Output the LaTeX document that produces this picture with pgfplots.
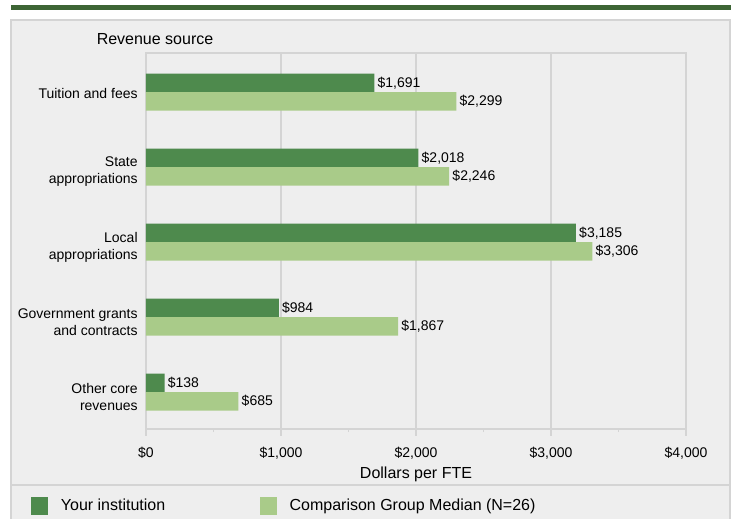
\documentclass[border=0pt]{standalone}
\usepackage{pgfplots}
\pgfplotsset{compat=1.18}
\usepackage{fontspec}
\setmainfont{Liberation Sans}

\definecolor{darkbar}{HTML}{4E8A4D}
\definecolor{lightbar}{HTML}{A9CB89}
\definecolor{stripe}{HTML}{3D6535}
\definecolor{panel}{HTML}{EEEEEE}
\definecolor{frame}{HTML}{D4D4D4}

\newcommand{\chartfont}{\fontsize{10.5}{12.75}\selectfont}
\newcommand{\bigfont}{\fontsize{12}{14.4}\selectfont}

\begin{document}
\begin{tikzpicture}[x=0.75pt,y=-0.75pt]
  \useasboundingbox (0,0) rectangle (732,518);
  % page decoration
  \fill[stripe] (11,5) rectangle (731,9.5);
  \filldraw[fill=panel,draw=frame,line width=1.1pt] (11,20) rectangle (730,530);
  \draw[frame,line width=1.1pt] (11,485) -- (730,485);

  \begin{axis}[
    at={(109.5pt,-321.75pt)}, anchor=south west,
    scale only axis,
    width=405pt, height=282pt,
    font=\chartfont,
    xbar, bar width=13.875pt,
    y dir=reverse,
    xmin=0, xmax=4000,
    ymin=-0.52, ymax=4.493,
    xtick={0,1000,2000,3000,4000},
    minor x tick num=1,
    xtick pos=left,
    tick align=outside,
    major tick length=5pt, minor tick length=2.25pt,
    tick style={frame, line width=1.1pt},
    xmajorgrids,
    major grid style={frame, line width=1.1pt},
    axis line style={frame, line width=1.1pt},
    axis background/.style={fill=panel},
    /pgf/number format/.cd, 1000 sep={,}, assume math mode=true, /pgfplots/.cd,
    xticklabel={\$\pgfmathprintnumber{\tick}},
    xticklabel style={yshift=-5pt},
    ytick={0,1,2,3,4},
    ytick style={draw=none},
    yticklabels={\raisebox{3pt}[\height][\depth]{Tuition and fees},
      State\\appropriations, Local\\appropriations,
      Government grants\\and contracts, Other core\\revenues},
    yticklabel style={align=right, xshift=2.25pt, yshift=-3.75pt},
    title={Revenue source},
    title style={at={(axis description cs:0.0167,1.037)}, anchor=center,
      yshift=-6pt, inner sep=0pt, font=\bigfont},
    xlabel={Dollars per FTE},
    xlabel style={at={(axis description cs:0.5,-0.12)}, anchor=center,
      inner sep=0pt, font=\bigfont},
    nodes near coords={\$\pgfmathprintnumber{\pgfplotspointmeta}},
    nodes near coords style={font=\chartfont, anchor=west, inner sep=2.25pt, text=black},
    point meta=explicit,
    legend columns=2,
    legend style={at={(axis description cs:-0.213,-0.2048)}, anchor=west,
      draw=none, fill=none, inner sep=0pt, font=\bigfont,
      /tikz/every odd column/.append style={column sep=7.5pt},
      /tikz/every even column/.append style={column sep=69pt}},
    legend cell align=left,
  ]
    \addplot[fill=darkbar, draw=none, bar shift=6.94pt,
      legend image code/.code={\fill[darkbar] (0pt,-6.4pt) rectangle (12.75pt,6.4pt);}]
      table[x=v, y=c, meta=v] {
        c v
        0 1691
        1 2018
        2 3185
        3 984
        4 138
      };
    \addlegendentry{Your institution}
    \addplot[fill=lightbar, draw=none, bar shift=-6.94pt,
      legend image code/.code={\fill[lightbar] (0pt,-6.4pt) rectangle (12.75pt,6.4pt);}]
      table[x=v, y=c, meta=v] {
        c v
        0 2299
        1 2246
        2 3306
        3 1867
        4 685
      };
    \addlegendentry{Comparison Group Median (N=26)}
  \end{axis}
\end{tikzpicture}
\end{document}
